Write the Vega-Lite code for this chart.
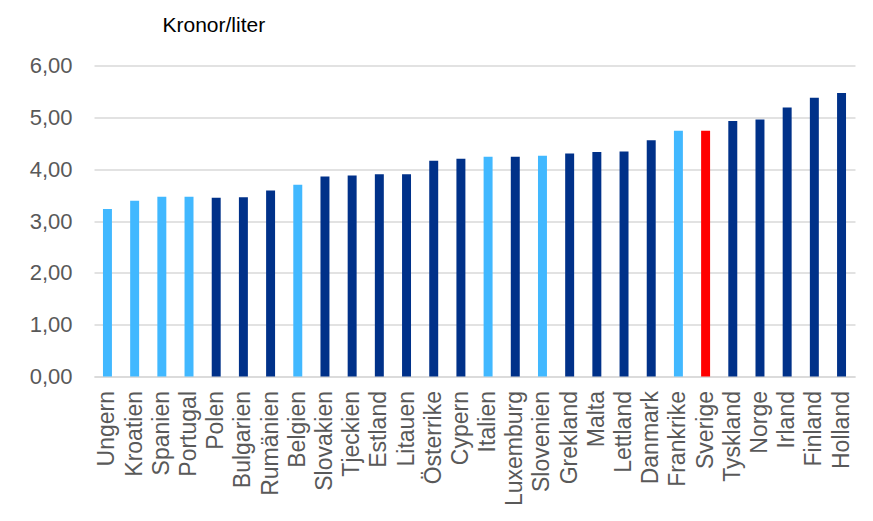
{
  "$schema": "https://vega.github.io/schema/vega-lite/v6.json",
  "width": 761,
  "height": 311,
  "autosize": {"type": "none"},
  "padding": {"left": 94, "top": 65.5, "right": 18, "bottom": 144},
  "background": "white",
  "data": {
    "values": [
      {"land": "Ungern", "pris": 3.23, "grupp": "ljus"},
      {"land": "Kroatien", "pris": 3.39, "grupp": "ljus"},
      {"land": "Spanien", "pris": 3.47, "grupp": "ljus"},
      {"land": "Portugal", "pris": 3.47, "grupp": "ljus"},
      {"land": "Polen", "pris": 3.45, "grupp": "mörk"},
      {"land": "Bulgarien", "pris": 3.46, "grupp": "mörk"},
      {"land": "Rumänien", "pris": 3.59, "grupp": "mörk"},
      {"land": "Belgien", "pris": 3.70, "grupp": "ljus"},
      {"land": "Slovakien", "pris": 3.86, "grupp": "mörk"},
      {"land": "Tjeckien", "pris": 3.88, "grupp": "mörk"},
      {"land": "Estland", "pris": 3.90, "grupp": "mörk"},
      {"land": "Litauen", "pris": 3.90, "grupp": "mörk"},
      {"land": "Österrike", "pris": 4.16, "grupp": "mörk"},
      {"land": "Cypern", "pris": 4.20, "grupp": "mörk"},
      {"land": "Italien", "pris": 4.24, "grupp": "ljus"},
      {"land": "Luxemburg", "pris": 4.24, "grupp": "mörk"},
      {"land": "Slovenien", "pris": 4.26, "grupp": "ljus"},
      {"land": "Grekland", "pris": 4.30, "grupp": "mörk"},
      {"land": "Malta", "pris": 4.33, "grupp": "mörk"},
      {"land": "Lettland", "pris": 4.34, "grupp": "mörk"},
      {"land": "Danmark", "pris": 4.56, "grupp": "mörk"},
      {"land": "Frankrike", "pris": 4.74, "grupp": "ljus"},
      {"land": "Sverige", "pris": 4.74, "grupp": "Sverige"},
      {"land": "Tyskland", "pris": 4.93, "grupp": "mörk"},
      {"land": "Norge", "pris": 4.96, "grupp": "mörk"},
      {"land": "Irland", "pris": 5.19, "grupp": "mörk"},
      {"land": "Finland", "pris": 5.38, "grupp": "mörk"},
      {"land": "Holland", "pris": 5.47, "grupp": "mörk"}
    ]
  },
  "mark": {"type": "bar"},
  "encoding": {
    "x": {
      "field": "land",
      "type": "nominal",
      "sort": null,
      "scale": {"paddingInner": 0.67, "paddingOuter": 0.33},
      "axis": {
        "title": null,
        "labelAngle": -90,
        "labelFont": "Liberation Sans",
        "labelFontSize": 23,
        "labelColor": "#595959",
        "labelPadding": 14,
        "ticks": false,
        "domainColor": "#D9D9D9",
        "domainWidth": 1.5,
        "grid": false
      }
    },
    "y": {
      "field": "pris",
      "type": "quantitative",
      "scale": {"domain": [0, 6], "nice": false},
      "axis": {
        "title": "Kronor/liter",
        "titleAngle": 0,
        "titleX": 68,
        "titleY": -34,
        "titleAlign": "left",
        "titleBaseline": "alphabetic",
        "titleFont": "Liberation Sans",
        "titleFontSize": 21,
        "titleFontWeight": "normal",
        "titleColor": "#000000",
        "values": [0, 1, 2, 3, 4, 5, 6],
        "labelExpr": "replace(format(datum.value, '.2f'), '.', ',')",
        "labelFont": "Liberation Sans",
        "labelFontSize": 22,
        "labelColor": "#595959",
        "labelPadding": 22,
        "ticks": false,
        "domain": false,
        "grid": true,
        "gridColor": "#D9D9D9",
        "gridWidth": 1.5
      }
    },
    "color": {
      "field": "grupp",
      "type": "nominal",
      "scale": {"domain": ["ljus", "mörk", "Sverige"], "range": ["#41B8FF", "#003189", "#FF0000"]},
      "legend": null
    }
  },
  "config": {"view": {"stroke": null}}
}
